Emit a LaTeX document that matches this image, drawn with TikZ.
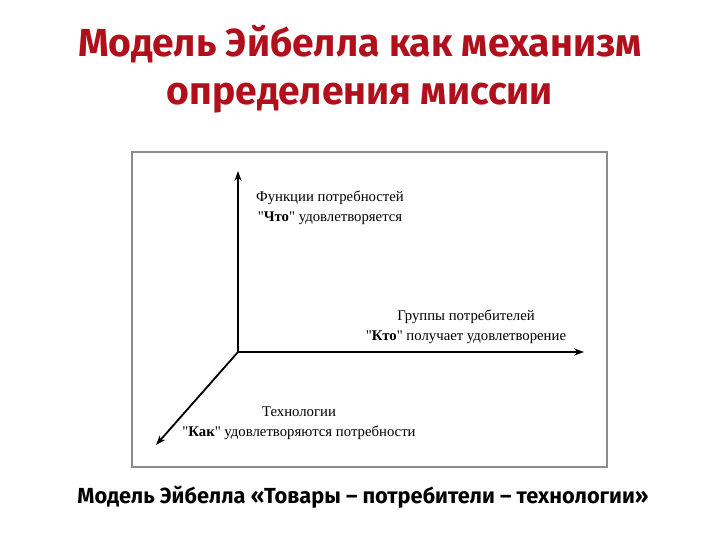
\documentclass[tikz,border=0pt]{standalone}
\usepackage{fontspec}
\setmainfont{Liberation Serif}
\newfontfamily\titlefont{Fira Sans}
\usetikzlibrary{arrows.meta}
\definecolor{titlered}{RGB}{176,16,28}

\begin{document}
\begin{tikzpicture}[x=0.025cm,y=-0.025cm]
		%%%%% START %%%%%
		
		\useasboundingbox[fill=white] (0, 0) rectangle (720, 540);
		
		\node[color=titlered, font=\titlefont\bfseries\fontsize{27.8}{34}\selectfont, align=center] (title) at (360, 69) {Модель Эйбелла как механизм\\определения миссии};
		
		\draw[line width=0.9pt, color=black!45] (132, 152) rectangle (607, 467);
		
		\coordinate (o) at (238, 352);
		\coordinate (up) at (238, 171);
		\coordinate (right) at (584, 352);
		\coordinate (down) at (156, 445);
		
		\draw[line width=1.3pt, -{Stealth[length=7pt, width=5pt]}] (o) -- (up);
		\draw[line width=1.3pt, -{Stealth[length=7pt, width=5pt]}] (o) -- (right);
		\draw[line width=1.3pt, -{Stealth[length=7pt, width=5pt]}] (o) -- (down);
		
		\node[font=\fontsize{10.5}{14}\selectfont, align=center] (what) at (330, 208) {Функции потребностей\\\textquotedbl\textbf{Что}\textquotedbl{} удовлетворяется};
		\node[font=\fontsize{10.5}{14}\selectfont, align=center] (who) at (466, 327) {Группы потребителей\\\textquotedbl\textbf{Кто}\textquotedbl{} получает удовлетворение};
		\node[font=\fontsize{10.5}{14}\selectfont, align=center] (how) at (299, 423) {Технологии\\\textquotedbl\textbf{Как}\textquotedbl{} удовлетворяются потребности};
		
		\node[font=\titlefont\bfseries\fontsize{15.5}{18}\selectfont] (caption) at (363, 497) {Модель Эйбелла «Товары – потребители – технологии»};
		
		%%%%% END %%%%%
\end{tikzpicture}
\end{document}
